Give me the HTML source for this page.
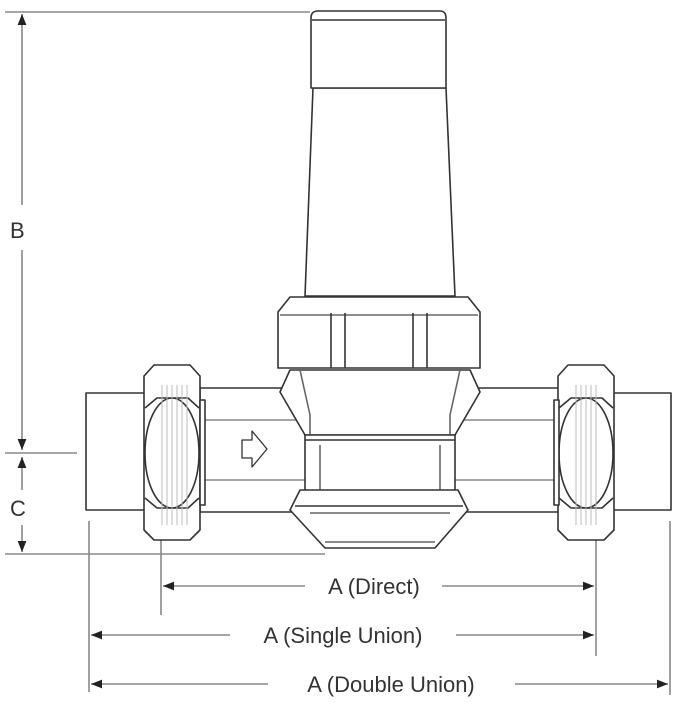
<!DOCTYPE html>
<html><head><meta charset="utf-8"><style>
html,body{margin:0;padding:0;background:#fff;}
svg{display:block;}
text{font-family:"Liberation Sans",sans-serif;font-size:22px;fill:#333;}
</style></head><body>
<svg width="679" height="709" viewBox="0 0 679 709" xmlns="http://www.w3.org/2000/svg">
<defs>
<marker id="ar" viewBox="0 0 10 10" refX="10" refY="5" markerWidth="7" markerHeight="7" orient="auto-start-reverse"><path d="M0,1 L10,5 L0,9 z" fill="#222"/></marker>
</defs>
<g stroke="#888" stroke-width="1.6" fill="none">
<!-- B / C dimensions -->
<line x1="5" y1="12" x2="310" y2="12"/>
<line x1="22" y1="14" x2="22" y2="205" marker-start="url(#ar)"/>
<line x1="22" y1="250" x2="22" y2="450" marker-end="url(#ar)"/>
<line x1="5" y1="453" x2="77" y2="453"/>
<line x1="22" y1="457" x2="22" y2="490" marker-start="url(#ar)"/>
<line x1="22" y1="525" x2="22" y2="552" marker-end="url(#ar)"/>
<line x1="5" y1="554" x2="325" y2="554"/>
<!-- extension lines -->
<line x1="89" y1="521" x2="89" y2="692"/>
<line x1="161" y1="530" x2="161" y2="615"/>
<line x1="596" y1="522" x2="596" y2="656"/>
<line x1="670" y1="521" x2="670" y2="695"/>
<!-- A lines -->
<line x1="163" y1="586" x2="305" y2="586" marker-start="url(#ar)"/>
<line x1="442" y1="586" x2="594" y2="586" marker-end="url(#ar)"/>
<line x1="91" y1="635" x2="230" y2="635" marker-start="url(#ar)"/>
<line x1="456" y1="635" x2="594" y2="635" marker-end="url(#ar)"/>
<line x1="91" y1="684" x2="268" y2="684" marker-start="url(#ar)"/>
<line x1="515" y1="684" x2="668" y2="684" marker-end="url(#ar)"/>
</g>
<text x="10" y="238">B</text>
<text x="10" y="516">C</text>
<text x="374" y="594" text-anchor="middle">A (Direct)</text>
<text x="343" y="643" text-anchor="middle">A (Single Union)</text>
<text x="391" y="692" text-anchor="middle">A (Double Union)</text>

<g stroke="#333" stroke-width="1.6" fill="#fff" stroke-linejoin="round">
<!-- upper body -->
<path d="M313,88 L305,296 L455,296 L446,88 Z"/>
<path d="M311,88 L311,18 Q311,11 318,11 L440,11 Q446,11 446,18 L446,88 Z"/>
<line x1="312" y1="20" x2="445" y2="20"/>
<!-- main pipe -->
<rect x="200" y="388" width="360" height="124"/>
<line x1="205" y1="420" x2="555" y2="420" stroke="#888"/>
<line x1="205" y1="480" x2="555" y2="480" stroke="#888"/>
<!-- neck -->
<path d="M290,370 L280,392 L305,435 L455,435 L480,392 L470,370 Z"/>
<path d="M300,370 L310,415 L310,435 M460,370 L450,415 L450,435" fill="none" stroke="#666"/>
<!-- middle -->
<rect x="305" y="435" width="150" height="65"/>
<line x1="305" y1="440" x2="455" y2="440"/>
<line x1="320" y1="445" x2="320" y2="500" stroke="#666"/>
<line x1="440" y1="445" x2="440" y2="500" stroke="#666"/>
<!-- bottom cap -->
<path d="M300,490 L290,510 L325,548 L435,548 L468,510 L458,490 Z"/>
<line x1="295" y1="506" x2="463" y2="506"/>
<line x1="310" y1="513" x2="450" y2="513" stroke="#666"/>
<line x1="325" y1="542" x2="435" y2="542" stroke="#666"/>
<!-- big hex nut -->
<path d="M278,312 L290,297 L468,297 L480,312 L480,368 L278,368 Z"/>
<line x1="280" y1="315" x2="478" y2="315" stroke="#666"/>
<line x1="331" y1="313" x2="331" y2="368"/><line x1="345" y1="313" x2="345" y2="368"/>
<line x1="413" y1="313" x2="413" y2="368"/><line x1="427" y1="313" x2="427" y2="368"/>
<!-- left pipe -->
<rect x="86" y="393" width="60" height="117"/>
<!-- right pipe -->
<rect x="612" y="393" width="59" height="117"/>
<!-- left nut -->
<path d="M144,376 L154,365 L190,365 L200,376 L200,530 L190,540 L154,540 L144,530 Z"/>
<path d="M145,408 L157,398 L188,398 L199,408" fill="none"/>
<path d="M145,498 L157,508 L188,508 L199,498" fill="none"/>
<ellipse cx="172" cy="453" rx="27" ry="55" fill="none"/>
<g stroke="#bbb" stroke-width="1"><line x1="162" y1="385" x2="162" y2="525"/><line x1="167" y1="385" x2="167" y2="525"/><line x1="172" y1="385" x2="172" y2="525"/><line x1="177" y1="385" x2="177" y2="525"/><line x1="182" y1="385" x2="182" y2="525"/><line x1="187" y1="385" x2="187" y2="525"/></g>
<rect x="200" y="400" width="5" height="105"/>
<!-- right nut -->
<path d="M558,376 L568,365 L604,365 L614,376 L614,530 L604,540 L568,540 L558,530 Z"/>
<path d="M559,408 L571,398 L602,398 L613,408" fill="none"/>
<path d="M559,498 L571,508 L602,508 L613,498" fill="none"/>
<ellipse cx="586" cy="453" rx="27" ry="55" fill="none"/>
<g stroke="#bbb" stroke-width="1"><line x1="576" y1="385" x2="576" y2="525"/><line x1="581" y1="385" x2="581" y2="525"/><line x1="586" y1="385" x2="586" y2="525"/><line x1="591" y1="385" x2="591" y2="525"/><line x1="596" y1="385" x2="596" y2="525"/></g>
<rect x="554" y="400" width="5" height="105"/>
<!-- flow arrow -->
<path d="M242,440 L252,440 L252,431 L267,449 L252,467 L252,458 L242,458 Z" stroke-width="1.3"/>
</g>
</svg>
</body></html>
